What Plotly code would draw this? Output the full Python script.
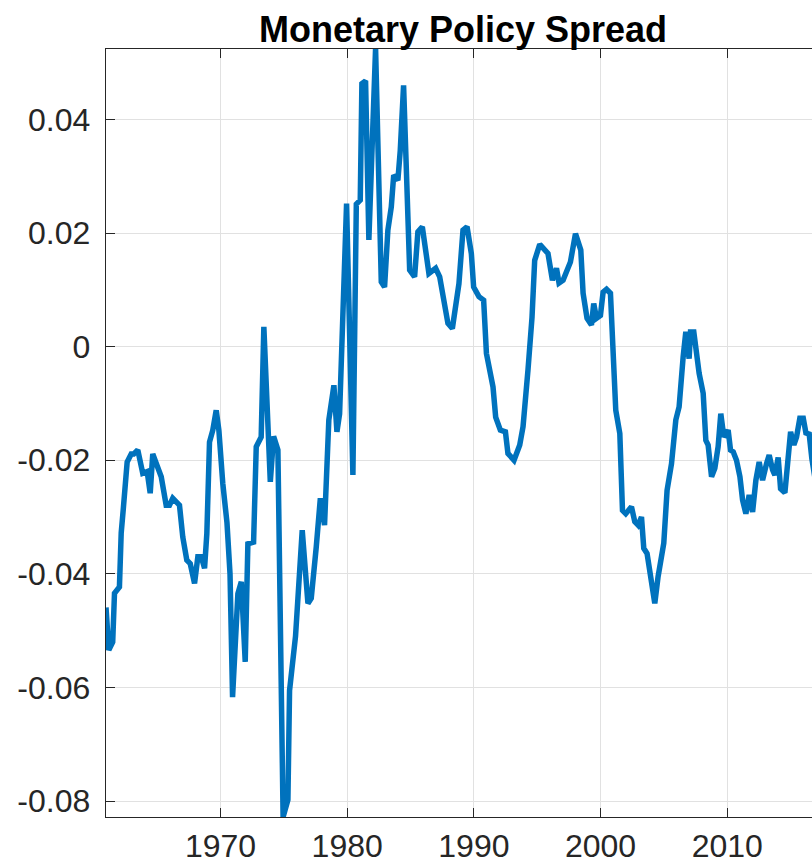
import plotly.graph_objects as go

years = [
    1960.96, 1961.18, 1961.49, 1961.63, 1962.02, 1962.16, 1962.34, 1962.63, 1962.95, 1963.15,
    1963.47, 1963.86, 1964.21, 1964.45, 1964.65, 1965.05, 1965.32, 1965.71, 1965.97, 1966.23,
    1966.50, 1966.76, 1967.02, 1967.34, 1967.61, 1967.95, 1968.21, 1968.48, 1968.74, 1968.92,
    1969.13, 1969.39, 1969.66, 1969.87, 1970.18, 1970.51, 1970.75, 1970.95, 1971.37, 1971.64,
    1971.95, 1972.16, 1972.61, 1972.82, 1973.21, 1973.42, 1973.93, 1974.19, 1974.53, 1974.94,
    1975.32, 1975.45, 1975.92, 1976.45, 1976.90, 1977.16, 1977.56, 1977.88, 1978.21, 1978.55,
    1978.95, 1979.19, 1979.40, 1979.95, 1980.45, 1980.72, 1981.03, 1981.16, 1981.45, 1981.71,
    1982.24, 1982.56, 1982.69, 1982.95, 1983.21, 1983.48, 1983.67, 1984.00, 1984.19, 1984.45,
    1984.93, 1985.32, 1985.58, 1985.93, 1986.45, 1986.98, 1987.30, 1987.95, 1988.30, 1988.82,
    1989.14, 1989.46, 1989.80, 1989.98, 1990.40, 1990.77, 1990.99, 1991.51, 1991.72, 1992.09,
    1992.49, 1992.69, 1993.17, 1993.62, 1993.88, 1994.27, 1994.59, 1994.80, 1995.20, 1995.85,
    1996.20, 1996.52, 1996.72, 1997.04, 1997.35, 1997.62, 1998.02, 1998.44, 1998.62, 1998.93,
    1999.28, 1999.46, 1999.68, 1999.99, 2000.20, 2000.47, 2000.78, 2000.99, 2001.20, 2001.52,
    2001.73, 2001.99, 2002.44, 2002.70, 2002.96, 2003.23, 2003.41, 2003.67, 2003.97, 2004.28,
    2004.54, 2004.99, 2005.25, 2005.60, 2005.94, 2006.20, 2006.52, 2006.73, 2006.99, 2007.10,
    2007.36, 2007.78, 2008.10, 2008.31, 2008.49, 2008.76, 2009.02, 2009.28, 2009.49, 2009.73,
    2010.07, 2010.26, 2010.47, 2010.73, 2011.00, 2011.21, 2011.47, 2011.73, 2012.00, 2012.26,
    2012.52, 2012.79, 2013.10, 2013.31, 2013.58, 2013.76, 2014.02, 2014.21, 2014.55, 2014.81,
    2015.00, 2015.26, 2015.47, 2015.73, 2016.00, 2016.21, 2016.47, 2016.68, 2016.95,
]

spread = [
    -0.0459, -0.0534, -0.0520, -0.0434, -0.0423, -0.0328, -0.0282, -0.0203, -0.0189, -0.0189,
    -0.0182, -0.0223, -0.0220, -0.0258, -0.0189, -0.0212, -0.0229, -0.0279, -0.0279, -0.0267,
    -0.0275, -0.0279, -0.0335, -0.0376, -0.0382, -0.0417, -0.0370, -0.0370, -0.0390, -0.0329,
    -0.0168, -0.0147, -0.0112, -0.0147, -0.0241, -0.0310, -0.0400, -0.0617, -0.0435, -0.0414,
    -0.0555, -0.0347, -0.0344, -0.0176, -0.0159, 0.0035, -0.0238, -0.0158, -0.0182, -0.0828,
    -0.0798, -0.0605, -0.0510, -0.0323, -0.0452, -0.0443, -0.0352, -0.0267, -0.0314, -0.0129,
    -0.0068, -0.0150, -0.0118, 0.0252, -0.0226, 0.0251, 0.0258, 0.0463, 0.0468, 0.0188,
    0.0525, 0.0205, 0.0114, 0.0105, 0.0205, 0.0246, 0.0302, 0.0293, 0.0346, 0.0460,
    0.0135, 0.0123, 0.0202, 0.0211, 0.0129, 0.0138, 0.0123, 0.0041, 0.0032, 0.0111,
    0.0205, 0.0211, 0.0164, 0.0105, 0.0088, 0.0082, -0.0012, -0.0071, -0.0124, -0.0147,
    -0.0150, -0.0188, -0.0200, -0.0173, -0.0141, -0.0041, 0.0052, 0.0152, 0.0180, 0.0164,
    0.0117, 0.0138, 0.0112, 0.0117, 0.0135, 0.0149, 0.0199, 0.0170, 0.0094, 0.0050,
    0.0038, 0.0076, 0.0050, 0.0055, 0.0096, 0.0101, 0.0094, 0.0006, -0.0112, -0.0153,
    -0.0288, -0.0294, -0.0282, -0.0308, -0.0314, -0.0300, -0.0355, -0.0364, -0.0411, -0.0452,
    -0.0405, -0.0346, -0.0253, -0.0206, -0.0129, -0.0106, -0.0018, 0.0026, -0.0021, 0.0026,
    0.0026, -0.0047, -0.0082, -0.0165, -0.0173, -0.0229, -0.0214, -0.0176, -0.0118, -0.0159,
    -0.0147, -0.0182, -0.0185, -0.0200, -0.0229, -0.0270, -0.0294, -0.0261, -0.0291, -0.0235,
    -0.0203, -0.0235, -0.0206, -0.0191, -0.0217, -0.0226, -0.0195, -0.0250, -0.0257, -0.0206,
    -0.0150, -0.0173, -0.0159, -0.0126, -0.0126, -0.0152, -0.0154, -0.0197, -0.0235,
]

x_ticks = [1970, 1980, 1990, 2000, 2010]
x_tick_labels = ["1970", "1980", "1990", "2000", "2010"]
y_ticks = [-0.08, -0.06, -0.04, -0.02, 0, 0.02, 0.04]
y_tick_labels = ["-0.08", "-0.06", "-0.04", "-0.02", "0", "0.02", "0.04"]

title_text = "Monetary Policy Spread"

fig = go.Figure()
fig.add_trace(go.Scatter(
    x=years, y=spread, mode="lines",
    line=dict(color="#0072BD", width=5.5),
    showlegend=False, hoverinfo="skip",
))

axis_color = "#262626"
grid_color = "#e1e1e1"
tick_font = dict(family="Liberation Sans, Arial, sans-serif", size=32, color=axis_color)

fig.update_layout(
    width=812, height=862,
    margin=dict(l=106, r=0, t=49, b=45, pad=0, autoexpand=False),
    paper_bgcolor="white", plot_bgcolor="white",
    title=dict(
        text="<b>" + title_text + "</b>",
        font=dict(family="Liberation Sans, Arial, sans-serif", size=36, color="black"),
        x=463 / 812, xref="container", xanchor="center",
        y=1 - 29 / 862, yref="container", yanchor="middle",
    ),
    xaxis=dict(
        range=[1960.96, 2016.69], automargin=False,
        tickmode="array", tickvals=x_ticks, ticktext=x_tick_labels,
        ticks="inside", ticklen=9, tickwidth=1, tickcolor=axis_color,
        showline=True, linecolor=axis_color, linewidth=1.3, mirror="ticks",
        showgrid=True, gridcolor=grid_color, gridwidth=1,
        zeroline=False, tickfont=tick_font, ticklabelstandoff=0,
    ),
    yaxis=dict(
        range=[-0.0828, 0.0524], automargin=False,
        tickmode="array", tickvals=y_ticks, ticktext=y_tick_labels,
        ticks="inside", ticklen=9, tickwidth=1, tickcolor=axis_color,
        showline=True, linecolor=axis_color, linewidth=1.3, mirror=False,
        showgrid=True, gridcolor=grid_color, gridwidth=1,
        zeroline=False, tickfont=tick_font, ticklabelstandoff=8,
    ),
)

page_fix = (
    "var h=document.documentElement, b=document.body;"
    "[h,b].forEach(function(e){e.style.margin='0';e.style.padding='0';"
    "e.style.overflow='hidden';e.style.width='812px';e.style.height='862px';});"
)

fig.write_html(
    "out.html",
    config={"displayModeBar": False, "staticPlot": True},
    post_script=page_fix,
)
